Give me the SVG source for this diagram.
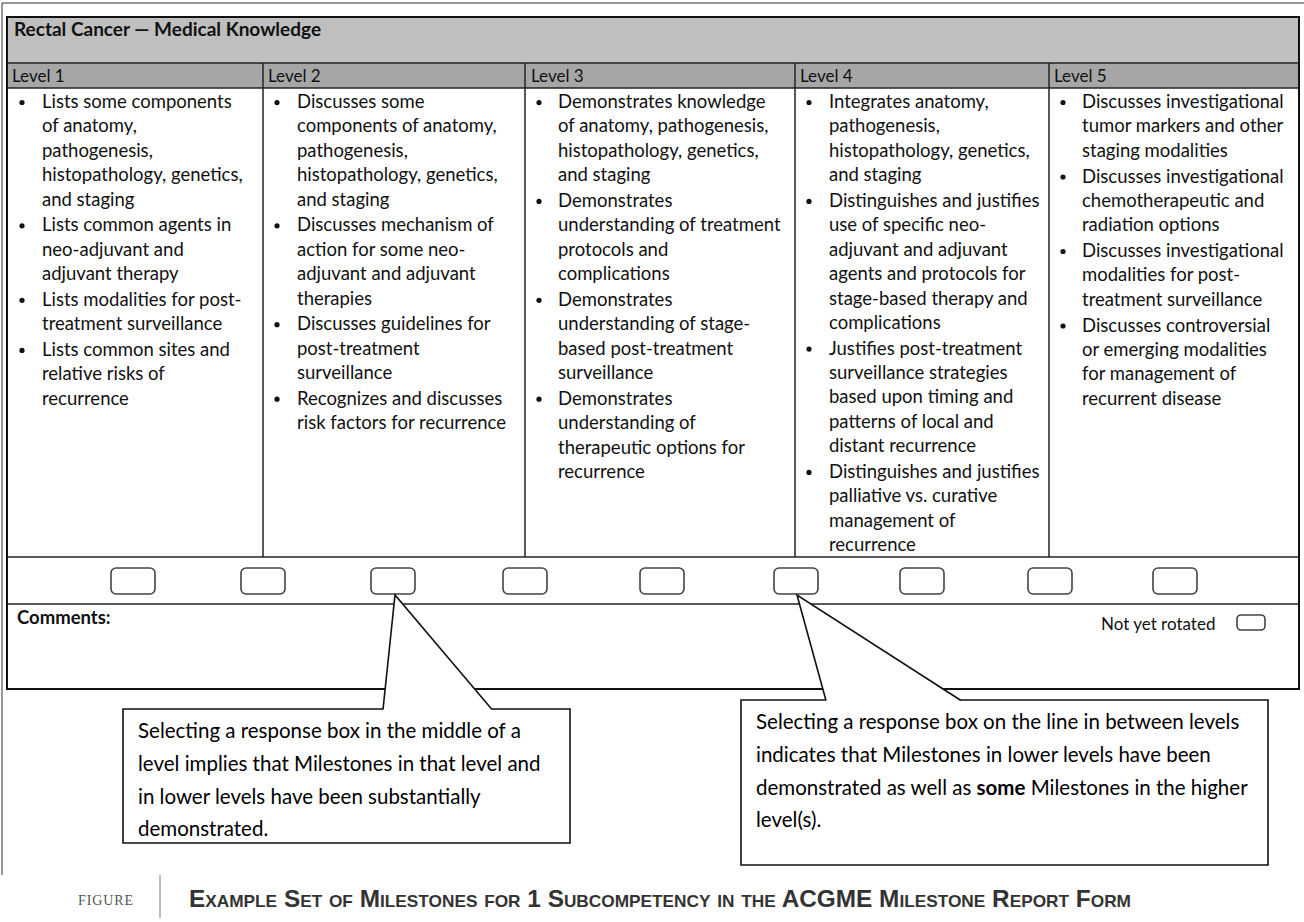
<svg xmlns="http://www.w3.org/2000/svg" width="1304" height="922" viewBox="0 0 1304 922">
<style>
.t{font-family:Lato,"Open Sans",sans-serif;font-size:18.5px;fill:#111}
.lv{font-family:Lato,"Open Sans",sans-serif;font-size:17px;fill:#111}
.b{font-family:Lato,"Open Sans",sans-serif;font-weight:bold;fill:#111}
.c{font-family:Lato,"Open Sans",sans-serif;font-size:20.5px;fill:#000}
.ln{stroke:#222;stroke-width:1.5;fill:none}
.box{fill:#fff;stroke:#444;stroke-width:1.6}
.dot{fill:#111}
.cap{font-family:"Liberation Sans",Arial,sans-serif;font-weight:bold;font-size:24px;font-variant:small-caps;fill:#333}
.fig{font-family:"Liberation Serif","Times New Roman",serif;font-size:14px;fill:#555;letter-spacing:2px}
</style>
<rect width="1304" height="922" fill="#fff"/>
<line x1="2" y1="3" x2="1304" y2="3" stroke="#333" stroke-width="1"/>
<line x1="2" y1="3" x2="2" y2="875" stroke="#333" stroke-width="1"/>

<g id="table">
  <rect x="7" y="17" width="1292" height="46" fill="#bfbfbf"/>
  <rect x="7" y="63" width="1292" height="25" fill="#a6a6a6"/>
  <rect x="7" y="88" width="1292" height="601" fill="#fff"/>
  <line class="ln" x1="7" y1="63" x2="1299" y2="63"/>
  <line class="ln" x1="7" y1="88" x2="1299" y2="88"/>
  <line class="ln" x1="7" y1="557" x2="1299" y2="557"/>
  <line class="ln" x1="7" y1="604" x2="1299" y2="604"/>
  <line class="ln" x1="263" y1="63" x2="263" y2="557"/>
  <line class="ln" x1="525" y1="63" x2="525" y2="557"/>
  <line class="ln" x1="795" y1="63" x2="795" y2="557"/>
  <line class="ln" x1="1049" y1="63" x2="1049" y2="557"/>
  <rect x="7" y="17" width="1292" height="672" fill="none" stroke="#111" stroke-width="2"/>
  <text class="b" x="14" y="36" font-size="19">Rectal Cancer — Medical Knowledge</text>
  <text class="lv" x="12" y="82">Level 1</text>
  <text class="lv" x="268" y="82">Level 2</text>
  <text class="lv" x="531" y="82">Level 3</text>
  <text class="lv" x="800" y="82">Level 4</text>
  <text class="lv" x="1054" y="82">Level 5</text>
</g>

<g id="level1">
  <circle class="dot" cx="22" cy="102.5" r="2.6"/>
  <circle class="dot" cx="22" cy="225.8" r="2.6"/>
  <circle class="dot" cx="22" cy="300.3" r="2.6"/>
  <circle class="dot" cx="22" cy="350.4" r="2.6"/>
  <text class="t">
    <tspan x="42" y="108">Lists some components</tspan>
    <tspan x="42" y="132.4">of anatomy,</tspan>
    <tspan x="42" y="156.8">pathogenesis,</tspan>
    <tspan x="42" y="181.2">histopathology, genetics,</tspan>
    <tspan x="42" y="205.6">and staging</tspan>
    <tspan x="42" y="231.3">Lists common agents in</tspan>
    <tspan x="42" y="255.7">neo-adjuvant and</tspan>
    <tspan x="42" y="280.1">adjuvant therapy</tspan>
    <tspan x="42" y="305.8">Lists modalities for post-</tspan>
    <tspan x="42" y="330.2">treatment surveillance</tspan>
    <tspan x="42" y="355.9">Lists common sites and</tspan>
    <tspan x="42" y="380.3">relative risks of</tspan>
    <tspan x="42" y="404.7">recurrence</tspan>
  </text>
</g>

<g id="level2">
  <circle class="dot" cx="277" cy="102.5" r="2.6"/>
  <circle class="dot" cx="277" cy="225.8" r="2.6"/>
  <circle class="dot" cx="277" cy="324.7" r="2.6"/>
  <circle class="dot" cx="277" cy="399.2" r="2.6"/>
  <text class="t">
    <tspan x="297" y="108">Discusses some</tspan>
    <tspan x="297" y="132.4">components of anatomy,</tspan>
    <tspan x="297" y="156.8">pathogenesis,</tspan>
    <tspan x="297" y="181.2">histopathology, genetics,</tspan>
    <tspan x="297" y="205.6">and staging</tspan>
    <tspan x="297" y="231.3">Discusses mechanism of</tspan>
    <tspan x="297" y="255.7">action for some neo-</tspan>
    <tspan x="297" y="280.1">adjuvant and adjuvant</tspan>
    <tspan x="297" y="304.5">therapies</tspan>
    <tspan x="297" y="330.2">Discusses guidelines for</tspan>
    <tspan x="297" y="354.6">post-treatment</tspan>
    <tspan x="297" y="379">surveillance</tspan>
    <tspan x="297" y="404.7">Recognizes and discusses</tspan>
    <tspan x="297" y="429.1">risk factors for recurrence</tspan>
  </text>
</g>

<g id="level3">
  <circle class="dot" cx="539" cy="102.5" r="2.6"/>
  <circle class="dot" cx="539" cy="201.4" r="2.6"/>
  <circle class="dot" cx="539" cy="300.3" r="2.6"/>
  <circle class="dot" cx="539" cy="399.2" r="2.6"/>
  <text class="t">
    <tspan x="558" y="108">Demonstrates knowledge</tspan>
    <tspan x="558" y="132.4">of anatomy, pathogenesis,</tspan>
    <tspan x="558" y="156.8">histopathology, genetics,</tspan>
    <tspan x="558" y="181.2">and staging</tspan>
    <tspan x="558" y="206.9">Demonstrates</tspan>
    <tspan x="558" y="231.3">understanding of treatment</tspan>
    <tspan x="558" y="255.7">protocols and</tspan>
    <tspan x="558" y="280.1">complications</tspan>
    <tspan x="558" y="305.8">Demonstrates</tspan>
    <tspan x="558" y="330.2">understanding of stage-</tspan>
    <tspan x="558" y="354.6">based post-treatment</tspan>
    <tspan x="558" y="379">surveillance</tspan>
    <tspan x="558" y="404.7">Demonstrates</tspan>
    <tspan x="558" y="429.1">understanding of</tspan>
    <tspan x="558" y="453.5">therapeutic options for</tspan>
    <tspan x="558" y="477.9">recurrence</tspan>
  </text>
</g>

<g id="level4">
  <circle class="dot" cx="809" cy="102.5" r="2.6"/>
  <circle class="dot" cx="809" cy="201.4" r="2.6"/>
  <circle class="dot" cx="809" cy="349.1" r="2.6"/>
  <circle class="dot" cx="809" cy="472.4" r="2.6"/>
  <text class="t">
    <tspan x="829" y="108">Integrates anatomy,</tspan>
    <tspan x="829" y="132.4">pathogenesis,</tspan>
    <tspan x="829" y="156.8">histopathology, genetics,</tspan>
    <tspan x="829" y="181.2">and staging</tspan>
    <tspan x="829" y="206.9">Distinguishes and justifies</tspan>
    <tspan x="829" y="231.3">use of specific neo-</tspan>
    <tspan x="829" y="255.7">adjuvant and adjuvant</tspan>
    <tspan x="829" y="280.1">agents and protocols for</tspan>
    <tspan x="829" y="304.5">stage-based therapy and</tspan>
    <tspan x="829" y="328.9">complications</tspan>
    <tspan x="829" y="354.6">Justifies post-treatment</tspan>
    <tspan x="829" y="379">surveillance strategies</tspan>
    <tspan x="829" y="403.4">based upon timing and</tspan>
    <tspan x="829" y="427.8">patterns of local and</tspan>
    <tspan x="829" y="452.2">distant recurrence</tspan>
    <tspan x="829" y="477.9">Distinguishes and justifies</tspan>
    <tspan x="829" y="502.3">palliative vs. curative</tspan>
    <tspan x="829" y="526.7">management of</tspan>
    <tspan x="829" y="551.1">recurrence</tspan>
  </text>
</g>

<g id="level5">
  <circle class="dot" cx="1063" cy="102.5" r="2.6"/>
  <circle class="dot" cx="1063" cy="177" r="2.6"/>
  <circle class="dot" cx="1063" cy="251.5" r="2.6"/>
  <circle class="dot" cx="1063" cy="326" r="2.6"/>
  <text class="t">
    <tspan x="1082" y="108">Discusses investigational</tspan>
    <tspan x="1082" y="132.4">tumor markers and other</tspan>
    <tspan x="1082" y="156.8">staging modalities</tspan>
    <tspan x="1082" y="182.5">Discusses investigational</tspan>
    <tspan x="1082" y="206.9">chemotherapeutic and</tspan>
    <tspan x="1082" y="231.3">radiation options</tspan>
    <tspan x="1082" y="257">Discusses investigational</tspan>
    <tspan x="1082" y="281.4">modalities for post-</tspan>
    <tspan x="1082" y="305.8">treatment surveillance</tspan>
    <tspan x="1082" y="331.5">Discusses controversial</tspan>
    <tspan x="1082" y="355.9">or emerging modalities</tspan>
    <tspan x="1082" y="380.3">for management of</tspan>
    <tspan x="1082" y="404.7">recurrent disease</tspan>
  </text>
</g>

<g id="response-boxes">
  <rect class="box" x="111" y="568" width="44" height="26" rx="5"/>
  <rect class="box" x="241" y="568" width="44" height="26" rx="5"/>
  <rect class="box" x="371" y="568" width="44" height="26" rx="5"/>
  <rect class="box" x="503" y="568" width="44" height="26" rx="5"/>
  <rect class="box" x="640" y="568" width="44" height="26" rx="5"/>
  <rect class="box" x="774" y="568" width="44" height="26" rx="5"/>
  <rect class="box" x="900" y="568" width="44" height="26" rx="5"/>
  <rect class="box" x="1028" y="568" width="44" height="26" rx="5"/>
  <rect class="box" x="1153" y="568" width="44" height="26" rx="5"/>
</g>

<g id="comments">
  <text class="b" x="17" y="624" font-size="18.5">Comments:</text>
  <text class="lv" x="1101" y="630" font-size="18.5">Not yet rotated</text>
  <rect class="box" x="1237" y="615" width="28" height="15" rx="4"/>
</g>

<g id="callout-middle">
  <path d="M383,709 L123,709 L123,843 L570,843 L570,709 L492,709" fill="#fff" stroke="#111" stroke-width="1.6"/>
  <text class="c">
    <tspan x="138" y="738">Selecting a response box in the middle of a</tspan>
    <tspan x="138" y="771">level implies that Milestones in that level and</tspan>
    <tspan x="138" y="804">in lower levels have been substantially</tspan>
    <tspan x="138" y="836">demonstrated.</tspan>
  </text>
</g>

<g id="callout-between">
  <path d="M826,700 L741,700 L741,865 L1268,865 L1268,700 L961,700" fill="#fff" stroke="#111" stroke-width="1.6"/>
  <text class="c">
    <tspan x="756" y="729">Selecting a response box on the line in between levels</tspan>
    <tspan x="756" y="762">indicates that Milestones in lower levels have been</tspan>
    <tspan x="756" y="795">demonstrated as well as <tspan font-weight="bold">some</tspan> Milestones in the higher</tspan>
    <tspan x="756" y="827">level(s).</tspan>
  </text>
</g>

<g id="connectors">
  <polygon points="395,595 383,710 492,710" fill="#fff" stroke="none"/>
  <polyline points="383,709.5 395,595 492,709.5" fill="none" stroke="#111" stroke-width="1.6"/>
  <polygon points="797,595 826,701 961,701" fill="#fff" stroke="none"/>
  <polyline points="826,700.5 797,595 961,700.5" fill="none" stroke="#111" stroke-width="1.6"/>
</g>

<g id="caption">
  <text class="fig" x="78" y="905" textLength="57" lengthAdjust="spacing">FIGURE</text>
  <line x1="160" y1="875" x2="160" y2="918" stroke="#777" stroke-width="1"/>
  <text class="cap" x="189" y="907" textLength="942" lengthAdjust="spacingAndGlyphs">Example Set of Milestones for 1 Subcompetency in the ACGME Milestone Report Form</text>
</g>
</svg>
